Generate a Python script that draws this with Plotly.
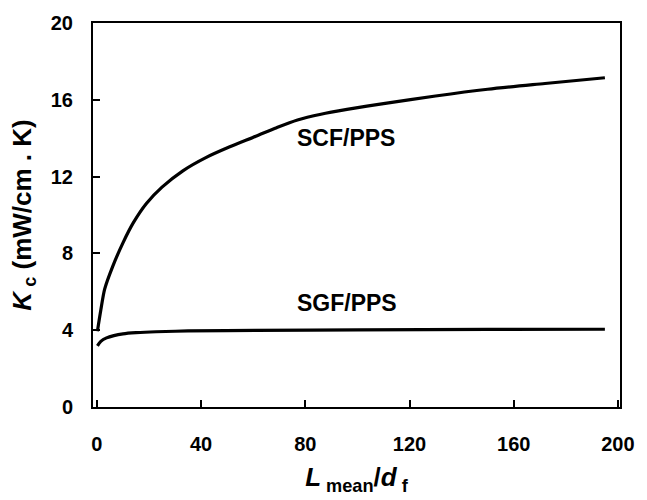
import plotly.graph_objects as go

# SCF/PPS curve
scf_x = [0.2, 1.5, 3, 6, 10, 14, 19, 25, 33, 42, 51, 61, 69, 77, 86, 96, 110, 130, 150, 172, 195]
scf_y = [3.95, 5.05, 6.15, 7.3, 8.55, 9.6, 10.6, 11.45, 12.3, 13.0, 13.55, 14.1, 14.55, 14.95, 15.25, 15.5, 15.8, 16.2, 16.55, 16.85, 17.15]

# SGF/PPS curve
sgf_x = [0.2, 1.5, 3.7, 6.5, 10, 15, 22.7, 35, 60.8, 100, 150, 195]
sgf_y = [3.18, 3.42, 3.6, 3.72, 3.81, 3.87, 3.92, 3.96, 3.99, 4.02, 4.04, 4.05]

x_ticks = [0, 40, 80, 120, 160, 200]
y_ticks = [0, 4, 8, 12, 16, 20]

labels = ["SCF/PPS", "SGF/PPS"]
label_x = [95.5, 96]
label_y = [14.0, 5.4]

fig = go.Figure()
fig.add_trace(go.Scatter(x=scf_x, y=scf_y, mode="lines", line=dict(color="black", width=3.2, shape="spline", smoothing=0.8), showlegend=False))
fig.add_trace(go.Scatter(x=sgf_x, y=sgf_y, mode="lines", line=dict(color="black", width=3.2, shape="spline", smoothing=0.8), showlegend=False))

for t, xx, yy in zip(labels, label_x, label_y):
    fig.add_annotation(x=xx, y=yy, text=t, showarrow=False,
                       font=dict(family="Liberation Sans, Arial", size=23, color="black", weight="bold"))

font = dict(family="Liberation Sans, Arial", size=20, color="black", weight="bold")
fig.update_layout(
    width=647, height=500,
    margin=dict(l=93, r=23, t=17, b=93),
    plot_bgcolor="white", paper_bgcolor="white",
    xaxis=dict(range=[-1.5, 200.8], tickvals=x_ticks, ticks="inside", ticklen=7, tickwidth=2,
               tickcolor="black", showline=True, linecolor="black", linewidth=2, mirror=True,
               showgrid=False, zeroline=False, tickfont=font, ticklabelstandoff=18,
               title=dict(text="<i>L</i><sub> mean</sub>/<i>d</i><sub> f</sub>", font=dict(family="Liberation Sans, Arial", size=26, color="black", weight="bold"), standoff=14)),
    yaxis=dict(range=[0, 20], tickvals=y_ticks, ticks="inside", ticklen=7, tickwidth=2,
               tickcolor="black", showline=True, linecolor="black", linewidth=2, mirror=True,
               showgrid=False, zeroline=False, tickfont=font, ticklabelstandoff=14,
               title=dict(text="<i>K</i><sub> c</sub> (mW/cm . K)", font=dict(family="Liberation Sans, Arial", size=26, color="black", weight="bold"), standoff=12)),
)

fig.write_html("out.html")
